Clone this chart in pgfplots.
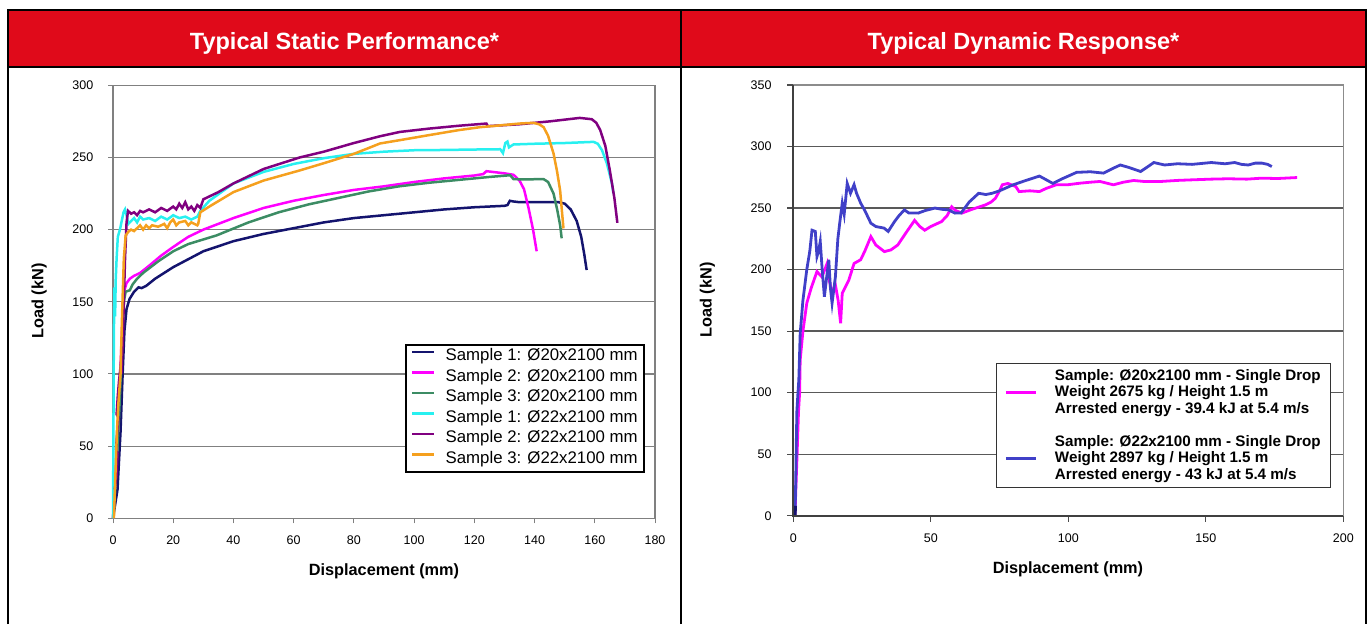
\documentclass[border=0pt]{standalone}
\usepackage{fontspec}
\setmainfont{Liberation Sans}
\usepackage{pgfplots}
\pgfplotsset{compat=1.18}

\definecolor{hdrred}{RGB}{224,10,26}
\definecolor{cnavy}{RGB}{20,20,110}
\definecolor{cmag}{RGB}{255,0,255}
\definecolor{cgreen}{RGB}{60,140,100}
\definecolor{ccyan}{RGB}{40,240,240}
\definecolor{cpurple}{RGB}{128,0,128}
\definecolor{corange}{RGB}{245,160,30}
\definecolor{cblue}{RGB}{64,64,200}

\pgfplotsset{
  panel/.style={
    anchor=south west, scale only axis,
    tick align=outside, xtick pos=left, ytick pos=left,
    ticklabel style={font=\fontsize{12.5}{14}\selectfont, inner sep=0pt},
    /pgf/number format/assume math mode=true,
    ymajorgrids, clip=false,
    legend cell align=left,
  },
}

\begin{document}
\begin{tikzpicture}[x=1pt,y=1pt]
\useasboundingbox (0,0) rectangle (1370,624);

% frame and red header
\fill[hdrred] (8,614) rectangle (1366,557);
\draw[line width=2pt] (8,0) -- (8,614) -- (1366,614) -- (1366,0);
\draw[line width=2pt] (8,557) -- (1366,557);
\draw[line width=2pt] (681,0) -- (681,614);
\node[anchor=base, text=white, font=\fontsize{23.5}{26}\selectfont\bfseries] at (344.5,574) {Typical Static Performance*};
\node[anchor=base, text=white, font=\fontsize{23.5}{26}\selectfont\bfseries] at (1023.5,574) {Typical Dynamic Response*};

% axis titles
\node[anchor=base, font=\fontsize{16.3}{18}\selectfont\bfseries] at (384,49) {Displacement (mm)};
\node[anchor=base, rotate=90, font=\fontsize{16.3}{18}\selectfont\bfseries] at (43.3,323) {Load (kN)};
\node[anchor=base, font=\fontsize{16.3}{18}\selectfont\bfseries] at (1068,50.5) {Displacement (mm)};
\node[anchor=base, rotate=90, font=\fontsize{16.3}{18}\selectfont\bfseries] at (711.7,324) {Load (kN)};

% ---------------- static test ----------------
\begin{axis}[panel,
  at={(113pt,105.7pt)}, width=542pt, height=433pt,
  xmin=0, xmax=180, ymin=0, ymax=300,
  xtick={0,20,...,180}, ytick={0,50,...,300},
  axis line style={draw=black!50, line width=1.2pt},
  major tick style={draw=black!50, line width=1pt}, major tick length=5pt,
  grid style={draw=black!50, line width=1.2pt},
  xticklabel style={yshift=-12pt},
  yticklabel style={xshift=-14.5pt},
  legend style={at={(axis description cs:0.539,0.4016)}, anchor=north west,
    draw=black, line width=2pt, fill=white,
    font=\fontsize{16.8}{18}\selectfont,
    inner xsep=5pt, inner ysep=2pt, row sep=0pt,
    /tikz/every odd column/.append style={column sep=9pt},
    nodes={inner sep=1pt, text height=12.5pt, text depth=6pt}},
  legend image code/.code={\draw[#1, line width=2.5pt] (0pt,5.5pt) -- (22pt,5.5pt);},
]
\addplot[cnavy, line width=2.5pt] coordinates {
(0,0) (1.5,20) (2.5,60) (3.2,100) (3.8,130) (4.5,145) (5.5,152) (7,157) (8.5,160)
(9.5,159.5) (11,161) (14,166) (20,174) (30,185) (40,192) (50,197) (60,201) (70,205)
(80,208) (90,210) (100,212) (110,214) (120,215.5) (130,216.5) (131,217) (131.8,220)
(133,219.5) (135,219) (140,219) (148,219) (150,218) (152,214) (154,206) (155.5,195)
(156.5,183) (157.3,172)};
\addlegendentry{Sample 1: Ø20x2100 mm}
\addplot[cmag, line width=2.5pt] coordinates {
(0,0) (0.8,30) (1.5,60) (2.2,90) (2.8,120) (3.3,145) (3.8,158) (4.5,163) (5.6,166)
(7,168) (9,170) (12,175) (16,182) (20,188) (25,195) (30,200) (40,208) (50,215) (60,220)
(70,224) (80,227.5) (90,230) (100,233) (110,235.5) (120,237.5) (123,238.5) (124,240.5)
(126,240) (130,239) (133,238) (135,234) (136.5,228) (138,215) (139.5,200) (140.7,185)};
\addlegendentry{Sample 2: Ø20x2100 mm}
\addplot[cgreen, line width=2.5pt] coordinates {
(0,0) (1,30) (2,70) (3,120) (3.6,150) (4.2,157) (5.6,158) (6.5,162) (8,166) (10,170)
(15,178) (20,185) (25,190) (34.4,196) (45,205) (55,212) (65,217.5) (75,222) (85,226.5)
(95,230) (105,232.5) (115,234.5) (125,236.5) (131.9,237.7) (133,235) (136,234.8)
(143,235) (144.5,233) (146.3,225) (147.5,214) (148.5,203) (149,194)};
\addlegendentry{Sample 3: Ø20x2100 mm}
\addplot[ccyan, line width=2.5pt] coordinates {
(0,0) (0.1,40) (0.2,90) (0.3,130) (0.5,160) (0.7,140) (0.9,165) (1.2,180) (1.6,195)
(2.3,200) (3,207) (3.5,212) (4,214) (4.5,210) (5.1,204) (6,206) (7,208) (8,205) (9,209)
(10,207) (12,208) (14,206) (16,209) (18,207) (20,210) (22,208) (24,209) (26,207)
(28,209) (29,213) (32,220) (36,226) (40,232) (50,240) (60,245.5) (70,249.5) (80,252.5)
(90,254) (100,255) (110,255.2) (120,255.5) (128.6,255.7) (129.5,253) (130.3,260)
(131,261) (131.5,257) (133,259) (140,259.5) (150,260) (159.6,260.8) (161,259.5)
(162.4,255) (164,246) (165.7,232) (166.2,225)};
\addlegendentry{Sample 1: Ø22x2100 mm}
\addplot[cpurple, line width=2.5pt] coordinates {
(0.6,20) (1.2,30) (1.5,45) (1.0,48) (1.4,60) (1.8,70) (1.2,72) (1.6,85) (2.0,95)
(2.5,105) (2.8,100) (3.2,120) (3.6,150) (4.0,180) (4.5,205) (5,213) (6,211) (7,212)
(8,210) (9,213) (10,212) (12,214) (14,212) (16,215) (18,213) (20,216) (21,214) (22,218)
(23,215) (24,219) (25,214) (26,216) (27,213) (28,217) (29,215) (30,221) (35,226)
(40,232) (50,242) (62,250) (70,254) (80,260) (88.7,264.7) (95.3,267.7) (105,270)
(115,272) (124,273.5) (124.5,271.7) (135,273) (145,275) (155,277.4) (159,276.5)
(160.5,274) (161.8,269) (163.5,258) (165,241) (166.5,222) (167.5,204.7)};
\addlegendentry{Sample 2: Ø22x2100 mm}
\addplot[corange, line width=2.5pt] coordinates {
(0.3,0) (0.8,30) (1.3,60) (1.8,80) (2.5,100) (3,140) (3.6,180) (4.2,196) (5.1,198.5)
(6,200) (7,199) (8,201) (9,203) (10,200) (11,203) (12,201) (13,203) (15,202) (17,204)
(18,201) (19,205) (20,207) (21,203) (22,205) (24,206) (25,203) (26,205) (28,203)
(28.3,204) (29,212) (32,216) (40,226) (50,234) (62,241) (70,246) (80,252.5)
(88.7,259.7) (95.3,262) (105,265.5) (115,269) (122,271) (130,272.5) (135,273.5)
(139.6,274) (141.5,273) (143,271) (144.5,265) (146.3,252.8) (147.5,240) (148.5,227)
(149,215) (149.6,200.8)};
\addlegendentry{Sample 3: Ø22x2100 mm}
\end{axis}

% ---------------- dynamic test ----------------
\begin{axis}[panel,
  at={(793.3pt,108.3pt)}, width=550pt, height=430.7pt,
  xmin=0, xmax=200, ymin=0, ymax=350,
  xtick={0,50,...,200}, ytick={0,50,...,350},
  axis line style={draw=black!45, line width=1.2pt},
  major tick style={draw=black!70, line width=1.2pt}, major tick length=6pt,
  grid style={draw=black!65, line width=1.3pt},
  xticklabel style={yshift=-11.6pt},
  yticklabel style={xshift=-15.6pt},
  legend style={at={(axis description cs:0.3685,0.3552)}, anchor=north west,
    draw=black!80, line width=1pt, fill=white,
    font=\fontsize{15.2}{16.7}\selectfont\bfseries,
    inner xsep=8pt, inner ysep=4.5pt, row sep=17pt,
    /tikz/every odd column/.append style={column sep=16pt},
    cells={align=left},
    nodes={inner sep=1.5pt}},
  legend image code/.code={\draw[#1, line width=3pt] (0pt,0pt) -- (30pt,0pt);},
]
\addplot[cmag, line width=2.8pt] coordinates {
(0.6,0) (0.9,20) (1.3,45) (1.6,65) (1.9,85) (2.3,100) (2.5,126.6) (3.5,150) (4.9,172.7)
(6.5,185) (8.6,198.4) (10.4,194) (12.3,205) (13.2,190) (14.1,181) (15.3,187.6)
(16.3,175) (17.2,156.4) (17.8,180.8) (20.2,191.6) (22.1,205) (24.5,208) (26,215)
(28.2,226.8) (30,220) (33.1,214.6) (35.5,216) (38,220) (41,230) (44.1,240) (46,235)
(47.8,232) (50,235) (53.9,239) (56,244) (57.6,251) (59,248) (61.3,245.9) (65,249)
(69.9,252.6) (72,255) (73.5,258) (75,264) (76,268.9) (78,270) (80.9,267.5) (82.1,263.4)
(86,264) (89.5,263.4) (92,266) (95.6,268.9) (100,269) (104.2,270.2) (108,271)
(111.5,271.6) (116.4,268.9) (120,271) (123.8,272.4) (128,271.5) (133.6,271.6)
(140,272.5) (145.8,273) (152,273.5) (158.1,273.8) (165,273.5) (170.4,274.3) (176,274)
(183.2,274.8)};
\addlegendentry{Sample: Ø20x2100 mm - Single Drop\\Weight 2675 kg / Height 1.5 m\\Arrested energy - 39.4 kJ at 5.4 m/s}
\addplot[cblue, line width=2.8pt] coordinates {
(0.5,0) (0.7,8) (0.9,30) (1.1,60) (1.3,85) (1.7,100) (2,110) (2.5,148) (3.5,175)
(4.9,200) (6,215) (6.8,232) (8,231) (8.6,210.6) (9.2,215) (9.8,222.8) (10.5,200)
(11.3,178) (12.2,195) (12.9,208) (13.5,185) (14.1,172.7) (15.3,194) (16.2,225)
(17.0,240) (17.8,254) (18.5,245) (19.6,270) (20.8,262) (22.1,269) (23,262) (24.5,254)
(26,248) (28.2,237.7) (30,235) (33,233.7) (34.5,231) (36.8,239) (38.5,244) (40.4,248.5)
(42,246) (45.4,245.9) (48,248) (51.5,250) (54,249) (56.4,248.5) (58.8,245.9) (61,246)
(64,255) (67.4,262) (70,261) (72.3,262) (75,264) (79.7,268.7) (84,272) (89.5,276)
(94.4,270) (98,274) (103,279) (108,279.5) (112.8,278.4) (116,282) (118.9,285) (122,283)
(126.3,279.7) (128.5,283) (131.1,287) (135,285) (139.7,286) (145,285.5) (152,287)
(157,286) (160.5,287) (163,285.5) (165.4,285) (168,286.5) (170.4,286.5) (172.5,285.5)
(174,283.7)};
\addlegendentry{Sample: Ø22x2100 mm - Single Drop\\Weight 2897 kg / Height 1.5 m\\Arrested energy - 43 kJ at 5.4 m/s}
\addplot[cnavy, line width=3pt, forget plot] coordinates {(0.6,0) (0.8,8) (0.6,3)};
\draw[black!75, line width=2pt] (rel axis cs:0,1) -- (rel axis cs:0,0) -- (rel axis cs:1,0);
\end{axis}
\end{tikzpicture}
\end{document}
